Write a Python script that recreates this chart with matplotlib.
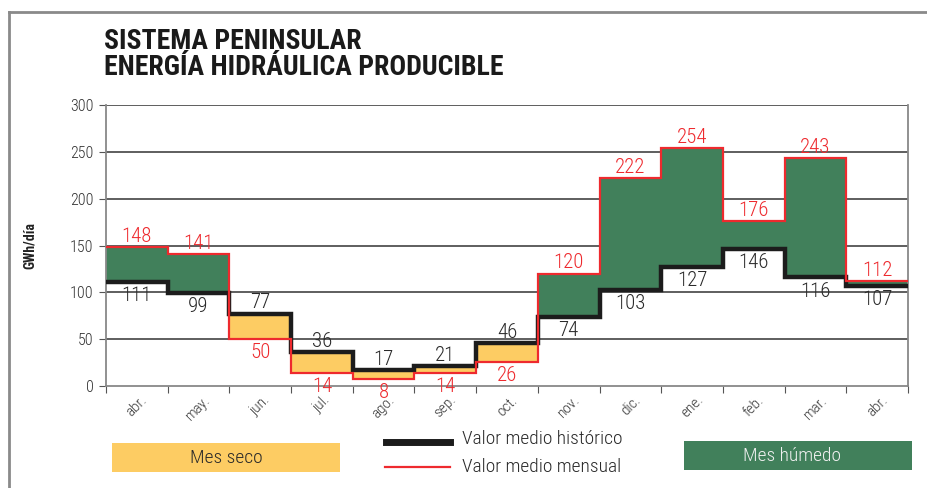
import numpy as np
import matplotlib
matplotlib.use("Agg")
import matplotlib.pyplot as plt
from matplotlib.lines import Line2D
from matplotlib.patches import Rectangle

months = ["abr.", "may.", "jun.", "jul.", "ago.", "sep.", "oct.", "nov.", "dic.", "ene.", "feb.", "mar.", "abr."]
mensual = [148, 141, 50, 14, 8, 14, 26, 120, 222, 254, 176, 243, 112]
historico = [111, 99, 77, 36, 17, 21, 46, 74, 103, 127, 146, 116, 107]
yticks = [0, 50, 100, 150, 200, 250, 300]

GREEN = "#41805b"
YELLOW = "#fdcc63"
RED = "#ee2a2e"
BLACK = "#1c1c1c"
FONT = ["Roboto Condensed", "DejaVu Sans"]
plt.rcParams["font.family"] = FONT

W, H = 927, 488
fig = plt.figure(figsize=(W / 100, H / 100), dpi=100)
ax = fig.add_axes([106 / W, 1 - 386 / H, (908 - 106) / W, (386 - 105) / H])

n = len(months)
edges = np.arange(n + 1)
m = np.array(mensual + [mensual[-1]], dtype=float)
h = np.array(historico + [historico[-1]], dtype=float)

for i in range(n):
    col = GREEN if mensual[i] >= historico[i] else YELLOW
    ax.fill_between([i, i + 1], [historico[i]] * 2, [mensual[i]] * 2, color=col, lw=0, zorder=2)
for y in yticks[1:]:
    ax.axhline(y, color="#333333", lw=1.1, zorder=1.5)
ax.step(edges, h, where="post", color=BLACK, lw=3.2, zorder=4, solid_joinstyle="miter")
ax.step(edges, m, where="post", color=RED, lw=1.6, zorder=5, solid_joinstyle="miter")

for i in range(n):
    xc = i + 0.5
    if mensual[i] >= historico[i]:
        ax.annotate(str(mensual[i]), (xc, mensual[i]), xytext=(0, 1), textcoords="offset points",
                    ha="center", va="bottom", color=RED, fontsize=15, fontweight="light", zorder=6)
        ax.annotate(str(historico[i]), (xc, historico[i]), xytext=(0, -3), textcoords="offset points",
                    ha="center", va="top", color="#2a2a2a", fontsize=15, fontweight="light", zorder=6)
    else:
        ax.annotate(str(mensual[i]), (xc, mensual[i]), xytext=(0, -3), textcoords="offset points",
                    ha="center", va="top", color=RED, fontsize=15, fontweight="light", zorder=6)
        ax.annotate(str(historico[i]), (xc, historico[i]), xytext=(0, 1), textcoords="offset points",
                    ha="center", va="bottom", color="#2a2a2a", fontsize=15, fontweight="light", zorder=6)

ax.set_xlim(0, n)
ax.set_ylim(0, 300)
ax.set_yticks(yticks)
ax.set_yticklabels([str(v) for v in yticks], fontsize=11.5, color="#333333", fontweight="light")
ax.set_xticks(edges)
ax.set_xticklabels([])
ax.set_xticks(np.arange(n) + 0.5, minor=True)
ax.set_xticklabels(months, minor=True, rotation=45, ha="center", va="top", fontsize=11,
                   color="#333333", fontweight="light")
ax.tick_params(axis="x", which="minor", length=0, pad=5)
ax.tick_params(axis="x", which="major", length=5, color="#555555", direction="out")
ax.tick_params(axis="y", length=5, color="#555555", direction="out", pad=4)
for s in ["left", "right", "bottom"]:
    ax.spines[s].set_color("#888888")
    ax.spines[s].set_linewidth(1.3)
ax.spines["top"].set_visible(False)
ax.set_ylabel("GWh/día", fontsize=10, fontweight="bold", color="#222222", labelpad=24)

# title
fig.text(104 / W, 1 - 81 / H, "SISTEMA PENINSULAR\nENERGÍA HIDRÁULICA PRODUCIBLE", fontsize=20, fontweight="bold",
         color="#1a1a1a", ha="left", va="bottom", linespacing=0.95)

# frame lines
fig.add_artist(Line2D([9 / W, 9 / W], [0, 1 - 12 / H], color="#8a8a8a", lw=2))
fig.add_artist(Line2D([9 / W, 1], [1 - 12 / H, 1 - 12 / H], color="#8a8a8a", lw=2))

# legend
fig.add_artist(Rectangle((112 / W, 1 - 472 / H), 228 / W, 29 / H, color=YELLOW, lw=0))
fig.text(226 / W, 1 - 458 / H, "Mes seco", ha="center", va="center", fontsize=14, color="#2a2a2a", fontweight="light")
fig.add_artist(Rectangle((684 / W, 1 - 470 / H), 228 / W, 29 / H, color=GREEN, lw=0))
fig.text(792 / W, 1 - 456 / H, "Mes húmedo", ha="center", va="center", fontsize=14, color="#f0f0f0", fontweight="light")
fig.add_artist(Line2D([386 / W, 450 / W], [1 - 442 / H, 1 - 442 / H], color=BLACK, lw=5))
fig.add_artist(Line2D([385 / W, 450 / W], [1 - 467 / H, 1 - 467 / H], color=RED, lw=1.6))
fig.text(462 / W, 1 - 439 / H, "Valor medio histórico", ha="left", va="center", fontsize=14, color="#2a2a2a", fontweight="light")
fig.text(462 / W, 1 - 467 / H, "Valor medio mensual", ha="left", va="center", fontsize=14, color="#2a2a2a", fontweight="light")

fig.savefig("out.png", dpi=100)
